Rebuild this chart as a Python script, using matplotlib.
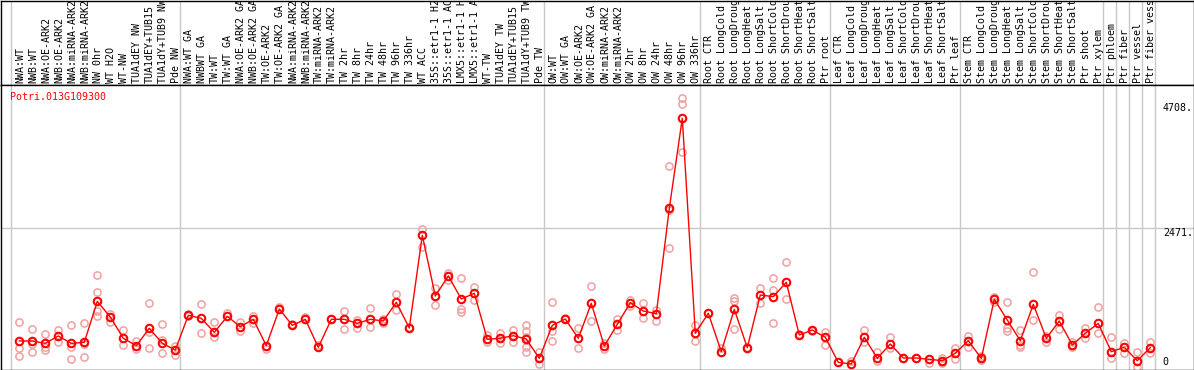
import numpy as np
import matplotlib
matplotlib.use('Agg')
import matplotlib.pyplot as plt
import matplotlib.transforms as mtransforms

# sample names (as shown, cut to fit the header)
labels = ["NWA:WT", "NWB:WT", "NWA:OE-ARK2", "NWB:OE-ARK2", "NWA:miRNA-ARK2", "NWB:miRNA-ARK2",
          "NW 0hr", "WT H2O", "WT-NW", "TUA1dEY NW", "TUA1dEY+TUB15", "TUA1dY+TUB9 NW", "Pde NW",
          "NWA:WT GA", "NWBWT GA", "TW:WT", "TW:WT GA", "NWA:OE-ARK2 GA", "NWB:OE-ARK2 GA",
          "TW:OE-ARK2", "TW:OE-ARK2 GA", "NWA:miRNA-ARK2", "NWB:miRNA-ARK2", "TW:miRNA-ARK2",
          "TW:miRNA-ARK2", "TW 2hr", "TW 8hr", "TW 24hr", "TW 48hr", "TW 96hr", "TW 336hr",
          "WT ACC", "35S::etr1-1 H2", "35S::etr1-1 AC", "LMX5::etr1-1 H", "LMX5::etr1-1 A",
          "WT-TW", "TUA1dEY TW", "TUA1dEY+TUB15", "TUA1dY+TUB9 TW", "Pde TW",
          "OW:WT", "OW:WT GA", "OW:OE-ARK2", "OW:OE-ARK2 GA", "OW:miRNA-ARK2", "OW:miRNA-ARK2",
          "OW 2hr", "OW 8hr", "OW 24hr", "OW 48hr", "OW 96hr", "OW 336hr",
          "Root CTR", "Root LongCold", "Root LongDroug", "Root LongHeat", "Root LongSalt",
          "Root ShortCold", "Root ShortDrou", "Root ShortHeat", "Root ShortSalt", "Ptr root",
          "Leaf CTR", "Leaf LongCold", "Leaf LongDroug", "Leaf LongHeat", "Leaf LongSalt",
          "Leaf ShortCold", "Leaf ShortDrou", "Leaf ShortHeat", "Leaf ShortSalt", "Ptr leaf",
          "Stem CTR", "Stem LongCold", "Stem LongDroug", "Stem LongHeat", "Stem LongSalt",
          "Stem ShortCold", "Stem ShortDrou", "Stem ShortHeat", "Stem ShortSalt", "Ptr shoot",
          "Ptr xylem", "Ptr phloem", "Ptr fiber", "Ptr vessel", "Ptr fiber vess"]

# mean expression per sample
means = [459, 459, 417, 548, 417, 435, 1167, 887, 507, 375, 685, 417, 298,
         917, 864, 614, 899, 714, 846, 375, 1030, 738, 846, 346, 846, 846, 774, 846, 816,
         1149, 691, 2345, 1262, 1619, 1208, 1310, 489, 507, 553, 494, 149,
         738, 851, 507, 1131, 369, 757, 1143, 994, 946, 2827, 4434, 596,
         953, 268, 1024, 340, 1280, 1250, 1506, 566, 655, 525,
         78, 48, 525, 149, 405, 155, 155, 132, 107, 239,
         464, 149, 1203, 833, 464, 1113, 507, 816, 387, 596, 774,
         268, 346, 107, 340]

# replicate values per sample
reps = [[792, 340, 197], [673, 399, 256], [578, 357, 298], [655, 435], [738, 357, 132],
        [774, 399, 173], [1637, 1328, 1000, 905], [946, 792], [655, 387], [464, 316],
        [1131, 614, 328], [757, 477, 239], [369, 209],
        [935, 905], [1119, 596], [792, 525], [953], [803, 643], [905, 786], [316], [1071],
        [756], [893], [387], [851], [994, 673], [833, 685], [1042, 714], [846, 774],
        [1298, 1012], [705], [2458, 2142], [1399, 1101], [1667, 1548], [1578, 1030, 982],
        [1428, 1191], [566, 446], [596, 428], [655, 446], [744, 643, 536, 357, 268], [268, 42],
        [1149, 632, 459], [864], [685, 328], [1440, 816], [417, 310], [846, 655], [1191, 1083],
        [1131, 864], [1012, 816], [3583, 2797, 2124], [4791, 4684, 3827], [744, 459],
        [953], [328, 256], [1221, 1179, 673], [357], [1399, 1131], [1578, 1369, 774],
        [1864, 1203], [580], [632], [614, 387],
        [90], [107], [655, 435], [256, 107], [525, 340], [155], [155], [71], [149, 60], [328, 132],
        [548, 357], [185, 113], [1250, 1155], [1149, 696, 643], [655, 387, 346], [1685, 833],
        [548, 446], [917, 667], [446, 357], [696, 507], [1059, 608],
        [525, 149], [417, 244], [256, 0], [435, 244]]

gene = "Potri.013G109300"
yticks = [0, 2471, 4708]
group_edges = [0, 13, 41, 53, 63, 73, 84, 85, 86, 87, 88]

plt.rcParams['font.family'] = 'DejaVu Sans Mono'
W, H = 1194, 370

def box(x0, y0, x1, y1):  # pixel box -> figure fraction
    return [x0 / W, 1 - y1 / H, (x1 - x0) / W, (y1 - y0) / H]

fig = plt.figure(figsize=(W / 100, H / 100), dpi=100)
ax_lab = fig.add_axes(box(0.5, 0.5, 1193.5, 85))  # header with sample names
ax = fig.add_axes(box(0.5, 85, 1193.5, 369.5))     # expression plot

x = np.arange(1, len(means) + 1)
xlim = ((0.5 - 6.3) / 13, (1193.5 - 6.3) / 13)
for a in (ax_lab, ax):
    a.set_xlim(xlim)
    a.set_xticks([])
    a.set_yticks([])
    for s in a.spines.values():
        s.set_color('black')
        s.set_linewidth(1)
    for k in group_edges:
        a.axvline(k + 0.36, color='#c8c8c8', lw=1, zorder=0)

ax_lab.set_ylim(0, 1)
ax.set_ylim(-50, 5028)
ax.axhline(yticks[1], color='#c8c8c8', lw=1, zorder=0)

# header labels
trans = mtransforms.blended_transform_factory(ax_lab.transData, ax_lab.transAxes)
for xi, lab in zip(x, labels):
    ax_lab.text(xi + 0.05, 0.025, lab, rotation=90, ha='center', va='bottom',
                fontsize=7.2, transform=trans, clip_on=True)

# replicates
for xi, r in zip(x, reps):
    ax.plot([xi] * len(r), r, 'o', ms=5.2, mfc='none', mec='#f0a0a0', mew=1.1, zorder=2)

# means
ax.plot(x, means, '-', color='red', lw=1, zorder=3)
ax.plot(x, means, 'o', ms=5.4, mfc='none', mec='red', mew=1.5, zorder=4)

ax.text(0.008, 0.975, gene, color='red', fontsize=7.2, ha='left', va='top',
        transform=ax.transAxes)

# value scale on the right
for v in yticks:
    ax.text(88.36 + 0.6, v, str(v) + ('.' if v else ''), fontsize=7.2,
            ha='left', va='bottom' if v == 0 else 'top')

plt.savefig('out.png', dpi=100)
